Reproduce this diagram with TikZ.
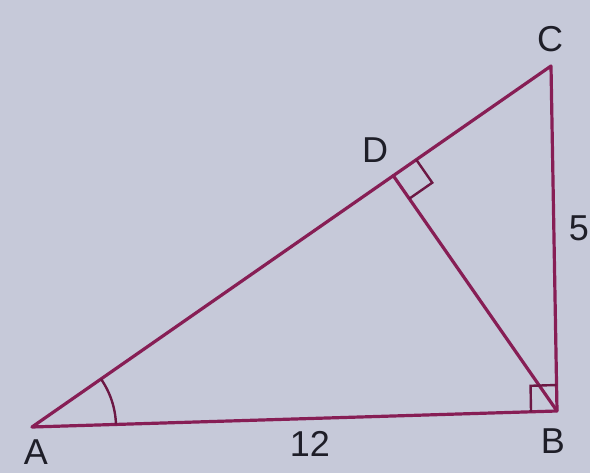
\documentclass[tikz,border=0pt]{standalone}
\usepackage{fontspec}
\setmainfont{Liberation Sans}
\usetikzlibrary{calc}
\definecolor{bg}{RGB}{198,201,217}
\definecolor{ln}{RGB}{135,30,85}
\definecolor{tx}{RGB}{30,30,40}
\begin{document}
\begin{tikzpicture}[x=1pt,y=-1pt,
  edge/.style={draw=ln,line width=3.2pt,line cap=round,line join=round},
  anglemark/.style={draw=ln!80!black,line width=2.4pt},
  lbl/.style={text=tx,font=\fontsize{36}{40}\selectfont,inner sep=0pt}]
\fill[bg] (0,0) rectangle (590,473);
\useasboundingbox (0,0) rectangle (590,473);
\coordinate (A) at (32,427);
\coordinate (B) at (557,411);
\coordinate (C) at (551,66);
\coordinate (D) at ($(A)!(B)!(C)$);
\draw[edge] (A) -- (B) -- (C) -- cycle;
\draw[edge] (B) -- (D);
% right angle at B
\coordinate (b1) at ($(B)!26pt!(A)$);
\coordinate (b2) at ($(B)!26pt!(C)$);
\draw[anglemark] (b1) -- ($(b1)+(b2)-(B)$) -- (b2);
% right angle at D
\coordinate (d1) at ($(D)!28pt!(C)$);
\coordinate (d2) at ($(D)!28pt!(B)$);
\draw[anglemark] (d1) -- ($(d1)+(d2)-(D)$) -- (d2);
% angle arc at A
\draw[anglemark] ($(A)!84pt!(B)$) arc[start angle=-1.7, end angle=-34.8, radius=84];
\node[lbl] (lA) at (36,452) {A};
\node[lbl] (lB) at (553,441) {B};
\node[lbl] (lC) at (550,39) {C};
\node[lbl] (lD) at (375,150) {D};
\node[lbl] (l5) at (579,228) {5};
\node[lbl] (l12) at (310,444) {12};
\end{tikzpicture}
\end{document}
